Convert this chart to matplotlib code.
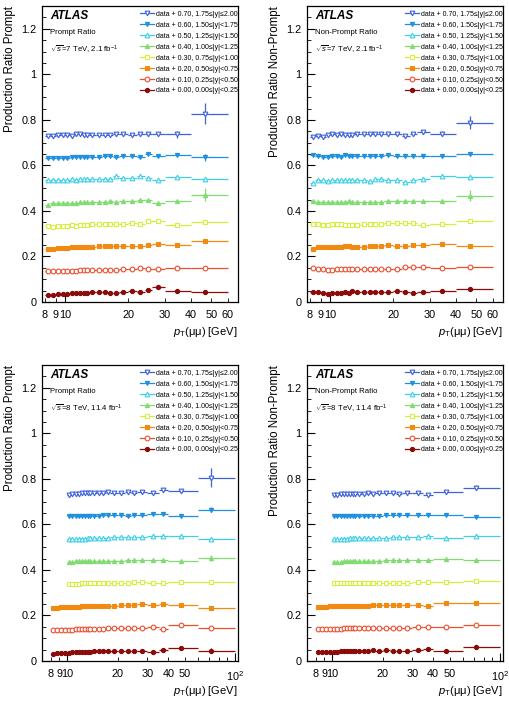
import numpy as np
import matplotlib.pyplot as plt
from matplotlib.lines import Line2D
from matplotlib.ticker import FixedLocator, FixedFormatter

plt.rcParams['font.family'] = ['Liberation Sans', 'DejaVu Sans']
plt.rcParams['mathtext.fontset'] = 'custom'
plt.rcParams['mathtext.rm'] = 'Liberation Sans'
plt.rcParams['mathtext.it'] = 'Liberation Sans:italic'
plt.rcParams['mathtext.bf'] = 'Liberation Sans:bold'

# pT bins [GeV] and mean pT of each bin
edges7 = [8, 8.5, 9, 9.5, 10, 10.5, 11, 11.5, 12, 12.5, 13, 14, 15, 16, 17, 18, 20, 22, 24, 26, 30, 40, 60]
pt7 = [8.24, 8.74, 9.24, 9.74, 10.24, 10.74, 11.24, 11.74, 12.24, 12.74, 13.45, 14.45, 15.45,
       16.45, 17.45, 18.9, 20.9, 22.9, 24.9, 27.8, 34.2, 46.5]
edges8 = [8, 8.5, 9, 9.5, 10, 10.5, 11, 11.5, 12, 12.5, 13, 13.5, 14, 15, 16, 17, 18, 20, 22, 24,
          26, 30, 35, 40, 60, 100]
pt8 = [8.24, 8.74, 9.24, 9.74, 10.24, 10.74, 11.24, 11.74, 12.24, 12.74, 13.24, 13.74, 14.45,
       15.45, 16.45, 17.45, 18.9, 20.9, 22.9, 24.9, 27.8, 32.3, 37.3, 47.5, 72.0]

offsets = [0.70, 0.60, 0.50, 0.40, 0.30, 0.20, 0.10, 0.00]
ybins = ['1.75≤|y|≤2.00', '1.50≤|y|<1.75', '1.25≤|y|<1.50', '1.00≤|y|<1.25',
         '0.75≤|y|<1.00', '0.50≤|y|<0.75', '0.25≤|y|<0.50', '0.00≤|y|<0.25']
colors = ['#3f63d8', '#1f8fe0', '#3fd0e8', '#80dc70', '#d8ee3c', '#f08a10', '#e8502f', '#8b0a0a']
markers = ['v', 'v', '^', '^', 's', 's', 'o', 'o']
filled = [False, True, False, True, False, True, False, True]

# ratios (without offset), one list per rapidity bin
prompt7 = [
    [0.030, 0.028, 0.034, 0.034, 0.033, 0.030, 0.036, 0.038, 0.034, 0.034, 0.034, 0.034, 0.035, 0.035, 0.040, 0.038, 0.035, 0.036, 0.036, 0.038, 0.036, 0.128],
    [0.031, 0.032, 0.034, 0.034, 0.034, 0.035, 0.035, 0.037, 0.035, 0.037, 0.037, 0.039, 0.040, 0.042, 0.039, 0.042, 0.042, 0.037, 0.049, 0.040, 0.047, 0.035],
    [0.037, 0.034, 0.037, 0.036, 0.036, 0.041, 0.038, 0.040, 0.039, 0.039, 0.040, 0.040, 0.041, 0.039, 0.052, 0.043, 0.046, 0.053, 0.043, 0.037, 0.049, 0.040],
    [0.027, 0.034, 0.035, 0.035, 0.036, 0.036, 0.037, 0.038, 0.038, 0.039, 0.040, 0.040, 0.040, 0.042, 0.041, 0.043, 0.042, 0.046, 0.046, 0.037, 0.045, 0.072],
    [0.032, 0.031, 0.033, 0.036, 0.035, 0.037, 0.036, 0.038, 0.038, 0.040, 0.041, 0.041, 0.042, 0.042, 0.042, 0.044, 0.045, 0.042, 0.055, 0.055, 0.040, 0.051],
    [0.034, 0.035, 0.037, 0.038, 0.039, 0.040, 0.040, 0.041, 0.041, 0.042, 0.043, 0.044, 0.044, 0.045, 0.045, 0.045, 0.046, 0.047, 0.049, 0.056, 0.050, 0.068],
    [0.036, 0.035, 0.036, 0.037, 0.037, 0.038, 0.038, 0.039, 0.039, 0.040, 0.040, 0.041, 0.041, 0.042, 0.042, 0.043, 0.044, 0.048, 0.046, 0.043, 0.048, 0.051],
    [0.033, 0.032, 0.037, 0.037, 0.035, 0.039, 0.040, 0.040, 0.040, 0.040, 0.042, 0.042, 0.042, 0.041, 0.041, 0.042, 0.049, 0.046, 0.051, 0.066, 0.048, 0.046],
]
nonprompt7 = [
    [0.027, 0.030, 0.027, 0.035, 0.036, 0.032, 0.036, 0.034, 0.034, 0.033, 0.036, 0.037, 0.037, 0.038, 0.038, 0.038, 0.038, 0.028, 0.036, 0.045, 0.040, 0.088],
    [0.045, 0.042, 0.038, 0.038, 0.040, 0.041, 0.038, 0.044, 0.040, 0.040, 0.041, 0.043, 0.043, 0.042, 0.042, 0.044, 0.041, 0.040, 0.042, 0.042, 0.042, 0.050],
    [0.024, 0.038, 0.036, 0.031, 0.034, 0.036, 0.037, 0.036, 0.037, 0.037, 0.037, 0.037, 0.033, 0.039, 0.040, 0.038, 0.036, 0.028, 0.036, 0.040, 0.052, 0.050],
    [0.043, 0.040, 0.040, 0.040, 0.040, 0.040, 0.038, 0.038, 0.042, 0.041, 0.041, 0.041, 0.041, 0.041, 0.041, 0.044, 0.043, 0.044, 0.045, 0.043, 0.043, 0.067],
    [0.043, 0.043, 0.038, 0.038, 0.041, 0.041, 0.041, 0.039, 0.040, 0.040, 0.039, 0.044, 0.044, 0.044, 0.043, 0.046, 0.045, 0.046, 0.047, 0.038, 0.044, 0.057],
    [0.033, 0.040, 0.040, 0.040, 0.041, 0.041, 0.042, 0.044, 0.044, 0.042, 0.043, 0.043, 0.044, 0.046, 0.048, 0.049, 0.044, 0.045, 0.050, 0.051, 0.054, 0.048],
    [0.049, 0.046, 0.045, 0.040, 0.040, 0.043, 0.046, 0.044, 0.047, 0.044, 0.046, 0.046, 0.047, 0.047, 0.047, 0.047, 0.043, 0.052, 0.052, 0.055, 0.050, 0.055],
    [0.044, 0.043, 0.040, 0.034, 0.039, 0.041, 0.041, 0.044, 0.041, 0.047, 0.042, 0.045, 0.042, 0.042, 0.042, 0.042, 0.050, 0.045, 0.038, 0.044, 0.047, 0.057],
]
# 8 TeV: |y|>=0.75 bins start at pT = 10 GeV
prompt8 = [
    [0.031, 0.032, 0.034, 0.035, 0.036, 0.037, 0.037, 0.038, 0.040, 0.037, 0.036, 0.042, 0.039, 0.038, 0.041, 0.037, 0.041, 0.038, 0.052, 0.045, 0.106],
    [0.036, 0.036, 0.037, 0.037, 0.038, 0.038, 0.038, 0.039, 0.039, 0.039, 0.040, 0.040, 0.041, 0.042, 0.037, 0.042, 0.043, 0.045, 0.045, 0.036, 0.065],
    [0.036, 0.036, 0.037, 0.037, 0.038, 0.038, 0.039, 0.039, 0.040, 0.041, 0.042, 0.042, 0.043, 0.044, 0.043, 0.044, 0.046, 0.047, 0.047, 0.049, 0.036],
    [0.037, 0.037, 0.038, 0.038, 0.038, 0.039, 0.039, 0.039, 0.040, 0.040, 0.040, 0.041, 0.041, 0.041, 0.042, 0.042, 0.042, 0.042, 0.045, 0.041, 0.053],
    [0.039, 0.039, 0.040, 0.040, 0.041, 0.041, 0.042, 0.042, 0.042, 0.043, 0.042, 0.043, 0.043, 0.044, 0.043, 0.045, 0.046, 0.044, 0.044, 0.045, 0.045],
    [0.033, 0.034, 0.036, 0.037, 0.038, 0.038, 0.039, 0.039, 0.040, 0.040, 0.040, 0.041, 0.041, 0.042, 0.042, 0.043, 0.043, 0.044, 0.045, 0.045, 0.050, 0.047, 0.051, 0.047, 0.033],
    [0.037, 0.037, 0.037, 0.037, 0.038, 0.038, 0.039, 0.039, 0.040, 0.040, 0.040, 0.040, 0.041, 0.042, 0.042, 0.043, 0.043, 0.043, 0.043, 0.044, 0.044, 0.050, 0.042, 0.057, 0.044],
    [0.033, 0.034, 0.035, 0.036, 0.037, 0.038, 0.039, 0.039, 0.040, 0.040, 0.041, 0.041, 0.042, 0.042, 0.043, 0.043, 0.044, 0.045, 0.043, 0.044, 0.045, 0.038, 0.050, 0.055, 0.046],
]
nonprompt8 = [
    [0.030, 0.031, 0.032, 0.032, 0.033, 0.033, 0.034, 0.035, 0.034, 0.033, 0.036, 0.035, 0.036, 0.037, 0.036, 0.035, 0.036, 0.036, 0.030, 0.043, 0.062],
    [0.036, 0.036, 0.037, 0.037, 0.038, 0.038, 0.038, 0.038, 0.038, 0.039, 0.039, 0.039, 0.039, 0.040, 0.040, 0.040, 0.040, 0.041, 0.042, 0.043, 0.033],
    [0.037, 0.037, 0.038, 0.038, 0.038, 0.039, 0.039, 0.039, 0.039, 0.040, 0.040, 0.040, 0.041, 0.042, 0.043, 0.043, 0.044, 0.045, 0.051, 0.041, 0.051],
    [0.036, 0.037, 0.037, 0.038, 0.038, 0.039, 0.039, 0.039, 0.040, 0.040, 0.040, 0.041, 0.041, 0.042, 0.042, 0.043, 0.044, 0.044, 0.043, 0.047, 0.042],
    [0.042, 0.042, 0.043, 0.042, 0.042, 0.043, 0.042, 0.042, 0.042, 0.043, 0.043, 0.044, 0.043, 0.044, 0.044, 0.044, 0.044, 0.047, 0.045, 0.045, 0.050],
    [0.036, 0.038, 0.039, 0.040, 0.040, 0.041, 0.041, 0.041, 0.042, 0.042, 0.042, 0.042, 0.043, 0.043, 0.043, 0.044, 0.044, 0.044, 0.044, 0.044, 0.045, 0.048, 0.043, 0.053, 0.056],
    [0.041, 0.041, 0.041, 0.042, 0.042, 0.042, 0.042, 0.043, 0.043, 0.043, 0.043, 0.044, 0.044, 0.044, 0.045, 0.045, 0.045, 0.045, 0.045, 0.045, 0.046, 0.048, 0.051, 0.048, 0.056],
    [0.040, 0.039, 0.039, 0.040, 0.041, 0.041, 0.042, 0.042, 0.042, 0.043, 0.043, 0.043, 0.043, 0.045, 0.046, 0.047, 0.046, 0.048, 0.045, 0.046, 0.046, 0.049, 0.053, 0.046, 0.060],
]

# visible uncertainties on the two highest-pT points (others are ~0.002)
err7_prompt = [[0.015, 0.045], [0.004, 0.015], [0.004, 0.008], [0.003, 0.028],
               [0.003, 0.006], [0.003, 0.007], [0.002, 0.004], [0.002, 0.006]]
err7_nonprompt = [[0.010, 0.030], [0.004, 0.010], [0.004, 0.008], [0.004, 0.025],
                  [0.003, 0.006], [0.003, 0.005], [0.003, 0.004], [0.002, 0.004]]
err8_prompt = [[0.008, 0.040], [0.004, 0.012], [0.003, 0.006], [0.004, 0.013],
               [0.003, 0.006], [0.003, 0.006], [0.003, 0.005], [0.003, 0.010]]
err8_nonprompt = [[0.005, 0.012], [0.003, 0.005], [0.003, 0.006], [0.003, 0.005],
                  [0.003, 0.005], [0.003, 0.005], [0.003, 0.004], [0.003, 0.005]]


def draw(ax, edges, pt, vals, tails, kind, energy, xmax, xlabels):
    edges = np.array(edges)
    pt = np.array(pt)
    for i in range(7, -1, -1):
        v = np.array(vals[i]) + offsets[i]
        n = len(v)
        x = pt[-n:]
        lo = x - edges[-n - 1:-1]
        hi = edges[-n:] - x
        e = np.full(n, 0.002)
        e[-2:] = tails[i]
        ax.errorbar(x, v, xerr=[lo, hi], yerr=e, fmt=markers[i], color=colors[i],
                    mfc=colors[i] if filled[i] else 'white', mec=colors[i], mew=0.8,
                    ms=3.0 if filled[i] else 3.4, lw=0.9, capsize=0)

    ax.set_xscale('log')
    ax.set_xlim(xmax[0], xmax[1])
    ax.set_ylim(0, 1.3)
    major = [t for t in (10, 100) if t < xmax[1]]
    minor = [t for t in (8, 9, 20, 30, 40, 50, 60, 70, 80, 90) if t < xmax[1]]
    ax.xaxis.set_major_locator(FixedLocator(major))
    ax.xaxis.set_major_formatter(FixedFormatter(['10', '$10^2$'][:len(major)]))
    ax.xaxis.set_minor_locator(FixedLocator(minor))
    ax.xaxis.set_minor_formatter(FixedFormatter([str(t) if t in xlabels else '' for t in minor]))
    ax.set_yticks([0, 0.2, 0.4, 0.6, 0.8, 1.0, 1.2])
    ax.set_yticklabels(['0', '0.2', '0.4', '0.6', '0.8', '1', '1.2'])
    ax.set_yticks(np.arange(0, 1.3, 0.05), minor=True)
    ax.tick_params(which='both', direction='in', labelsize=7.8)
    ax.tick_params(axis='x', which='major', length=6, pad=6)
    ax.tick_params(axis='x', which='minor', length=3, pad=6, labelsize=7.8)
    ax.tick_params(axis='y', which='major', length=6, pad=4)
    ax.tick_params(axis='y', which='minor', length=3)
    for s in ax.spines.values():
        s.set_linewidth(0.9)

    ax.set_ylabel('Production Ratio ' + kind, fontsize=8.3, loc='top')
    ax.yaxis.set_label_coords(-0.135, 1.0)
    ax.set_xlabel(r'$p_{\rm T}$(μμ) [GeV]', fontsize=8.0, loc='right')
    ax.xaxis.set_label_coords(1.0, -0.078)

    ax.text(0.04, 0.985, 'ATLAS', transform=ax.transAxes, fontsize=8.5,
            fontweight='bold', fontstyle='italic', va='top')
    ax.text(0.04, 0.91, kind + ' Ratio', transform=ax.transAxes, fontsize=5.6, va='center')
    ax.text(0.04, 0.85, energy, transform=ax.transAxes, fontsize=5.6, va='center')

    handles = [Line2D([], [], color=colors[i], marker=markers[i], lw=0.9, mew=0.8,
                      mfc=colors[i] if filled[i] else 'white', mec=colors[i],
                      ms=3.0 if filled[i] else 3.4) for i in range(8)]
    labels = ['data + %.2f, %s' % (offsets[i], ybins[i]) for i in range(8)]
    ax.legend(handles, labels, loc='upper left', bbox_to_anchor=(0.5, 0.984), frameon=False,
              fontsize=5, labelspacing=0.57, handlelength=2.0, handletextpad=0.35,
              borderaxespad=0, borderpad=0)


fig = plt.figure(figsize=(5.1, 7.11), dpi=100)
ax1 = fig.add_axes([0.0824, 0.5752, 0.3843, 0.4163])
ax2 = fig.add_axes([0.602, 0.5752, 0.3843, 0.4163])
ax3 = fig.add_axes([0.0824, 0.0703, 0.3843, 0.4163])
ax4 = fig.add_axes([0.602, 0.0703, 0.3843, 0.4163])

lab7 = (8, 9, 20, 30, 40, 50, 60)
lab8 = (8, 9, 20, 30, 40, 50)
e7 = r'$\sqrt{s}$=7 TeV, 2.1 fb$^{-1}$'
e8 = r'$\sqrt{s}$=8 TeV, 11.4 fb$^{-1}$'
draw(ax1, edges7, pt7, prompt7, err7_prompt, 'Prompt', e7, (7.75, 67), lab7)
draw(ax2, edges7, pt7, nonprompt7, err7_nonprompt, 'Non-Prompt', e7, (7.75, 67), lab7)
draw(ax3, edges8, pt8, prompt8, err8_prompt, 'Prompt', e8, (7.1, 104), lab8)
draw(ax4, edges8, pt8, nonprompt8, err8_nonprompt, 'Non-Prompt', e8, (7.1, 104), lab8)

fig.savefig('out.png', dpi=100)
